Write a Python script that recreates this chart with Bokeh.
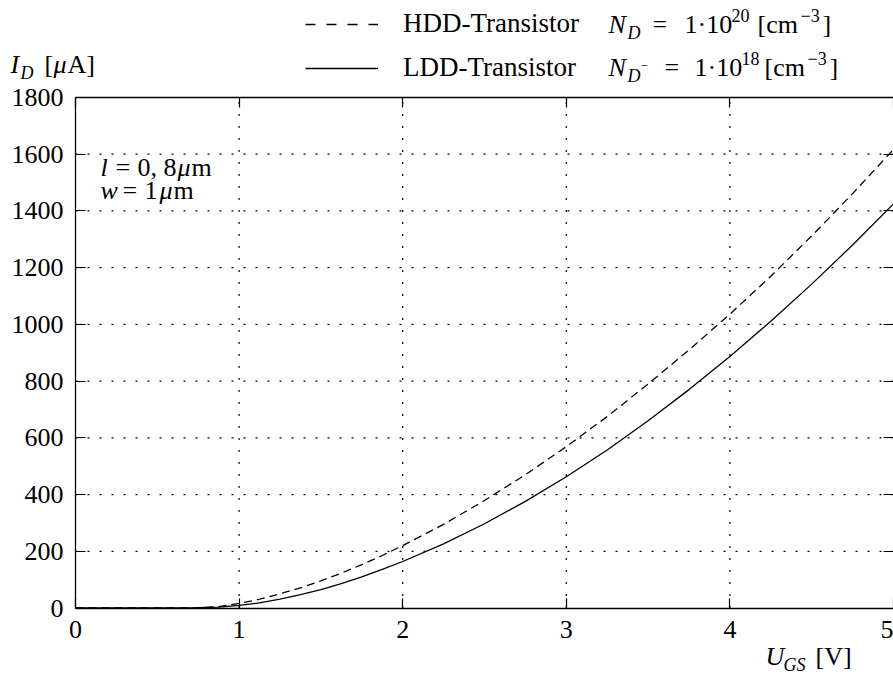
from bokeh.plotting import figure
from bokeh.models import (Range1d, LinearAxis, FixedTicker, Label, Legend,
                          LegendItem)
from bokeh.embed import file_html
from bokeh.resources import INLINE

# Gate voltage U_GS [V]
u_gs = [0.0, 0.25, 0.5, 0.625, 0.75, 0.875, 1.0, 1.125, 1.25, 1.375, 1.5,
        1.625, 1.75, 1.875, 2.0, 2.25, 2.5, 2.75, 3.0, 3.25, 3.5, 3.75,
        4.0, 4.25, 4.5, 4.75, 5.0]
# Drain current I_D [uA], heavily doped drain (HDD)
i_hdd = [0, 0, 0, 0, 1, 5, 16, 31, 50, 71, 96,
         123, 153, 185, 220, 295, 379, 470, 569, 675, 790, 910,
         1036, 1170, 1312, 1461, 1617]
# Drain current I_D [uA], lightly doped drain (LDD)
i_ldd = [0, 0, 0, 0, 1, 3, 9, 18, 31, 47, 65,
         86, 110, 136, 164, 226, 297, 376, 463, 557, 660, 770,
         887, 1011, 1142, 1280, 1425]

x_ticks = [0, 1, 2, 3, 4, 5]
y_ticks = [0, 200, 400, 600, 800, 1000, 1200, 1400, 1600, 1800]

FONT = "Liberation Serif"
W, H = 893, 675
# pixel box of the data area (0..5 V, 0..1800 uA) on the canvas
BOX_L, BOX_R, BOX_T, BOX_B = 75.0, 893.0, 97.0, 607.5

x0, x1 = x_ticks[0], x_ticks[-1]
y0, y1 = y_ticks[0], y_ticks[-1]
ux = (x1 - x0) / (BOX_R - BOX_L)      # volts per pixel
uy = (y1 - y0) / (BOX_B - BOX_T)      # uA per pixel

# the frame fills the whole canvas; axes sit at fixed data positions
p = figure(width=W, height=H,
           x_range=Range1d(x0 - BOX_L * ux, x1 + (W - BOX_R) * ux),
           y_range=Range1d(y0 - (H - BOX_B) * uy, y1 + BOX_T * uy),
           output_backend="svg", toolbar_location=None,
           min_border_left=0, min_border_right=0,
           min_border_top=0, min_border_bottom=0)
p.outline_line_color = None
p.background_fill_color = "white"
p.border_fill_color = "white"
p.xgrid.visible = False
p.ygrid.visible = False


def dx(sx):
    return x0 + (sx - BOX_L) * ux


def dy(sy):
    return y0 + (BOX_B - sy) * uy


def style_axis(ax, ticks, bounds, loc, show_labels=True, standoff=8):
    ax.ticker = FixedTicker(ticks=ticks)
    ax.bounds = bounds
    ax.fixed_location = loc
    ax.major_tick_in = 10
    ax.major_tick_out = 0
    ax.major_tick_line_color = "black"
    ax.major_tick_line_width = 1.2
    ax.minor_tick_line_color = None
    ax.axis_line_color = "black"
    ax.axis_line_width = 1.3
    ax.major_label_text_font = FONT
    ax.major_label_text_font_size = "26px"
    ax.major_label_standoff = standoff
    ax.major_label_text_color = "black" if show_labels else None


style_axis(p.xaxis[0], x_ticks, (x0, x1), y0, standoff=13)
style_axis(p.yaxis[0], y_ticks, (y0, y1), x0, standoff=12)

top_axis = LinearAxis()
style_axis(top_axis, x_ticks, (x0, x1), y1, show_labels=False)
p.add_layout(top_axis, "above")

right_axis = LinearAxis()
style_axis(right_axis, y_ticks, (y0, y1), x1, show_labels=False)
right_axis.axis_line_color = None
p.add_layout(right_axis, "right")

# dotted grid over the data area
inner_x = x_ticks[1:-1]
inner_y = y_ticks[1:-1]
grid_kw = dict(line_color="black", line_width=1.2, line_dash="2 10")
p.segment(x0=inner_x, y0=[y0] * len(inner_x), x1=inner_x,
          y1=[y1] * len(inner_x), **grid_kw)
p.segment(x0=[x0] * len(inner_y), y0=inner_y, x1=[x1] * len(inner_y),
          y1=inner_y, **grid_kw)

p.line(u_gs, i_hdd, line_color="black", line_width=1.3, line_dash="8 5")
p.line(u_gs, i_ldd, line_color="black", line_width=1.3)

# key samples: single-point lines, so only their legend glyph shows
k_hdd = p.line(x=[x0], y=[y0], line_color="black", line_width=1.3,
               line_dash="10 11")
k_ldd = p.line(x=[x0], y=[y0], line_color="black", line_width=1.3)

legend = Legend(items=[LegendItem(label="HDD-Transistor", renderers=[k_hdd]),
                       LegendItem(label="LDD-Transistor", renderers=[k_ldd])],
                location=(305, 592), orientation="vertical",
                label_text_font=FONT, label_text_font_size="27px",
                label_text_color="black",
                glyph_width=73, glyph_height=20, label_standoff=25,
                spacing=13, padding=0, margin=0,
                border_line_color=None, background_fill_alpha=0)
p.add_layout(legend)


def put(sx, sy, text, size=26, italic=False):
    p.add_layout(Label(x=dx(sx), y=dy(sy), text=text,
                       text_font=FONT, text_font_size=f"{size}px",
                       text_font_style="italic" if italic else "normal",
                       text_color="black", text_align="left",
                       text_baseline="middle"))


# key formulas
c1, c2 = 24, 67
put(608, c1, "N", italic=True)
put(627, c1 + 8, "D", 18, italic=True)
put(652, c1, "=")
put(684, c1, "1·10")
put(731, c1 - 9, "20", 18)
put(757, c1, "[cm")
put(800, c1 - 9, "−3", 18)
put(822, c1, "]")

put(608, c2, "N", italic=True)
put(627, c2 + 8, "D", 18, italic=True)
put(640, c2 - 2, "−", 13)
put(664, c2, "=")
put(694, c2, "1·10")
put(741, c2 - 9, "18", 18)
put(764, c2, "[cm")
put(807, c2 - 9, "−3", 18)
put(829, c2, "]")

# axis titles
cy = 64
put(10, cy, "I", italic=True)
put(20, cy + 8, "D", 18, italic=True)
put(44, cy, "[")
put(53, cy, "μ", italic=True)
put(67, cy, "A]")

cx = 656
put(765, cx, "U", italic=True)
put(783, cx + 8, "GS", 18, italic=True)
put(815, cx, "[V]")

# device geometry
a1, a2 = 167, 190
put(100, a1, "l", italic=True)
put(115, a1, "=")
put(137, a1, "0, 8")
put(177, a1, "μ", italic=True)
put(191, a1, "m")
put(100, a2, "w", italic=True)
put(122, a2, "=")
put(144, a2, "1")
put(159, a2, "μ", italic=True)
put(173, a2, "m")

open("out.html", "w").write(file_html(p, INLINE))
